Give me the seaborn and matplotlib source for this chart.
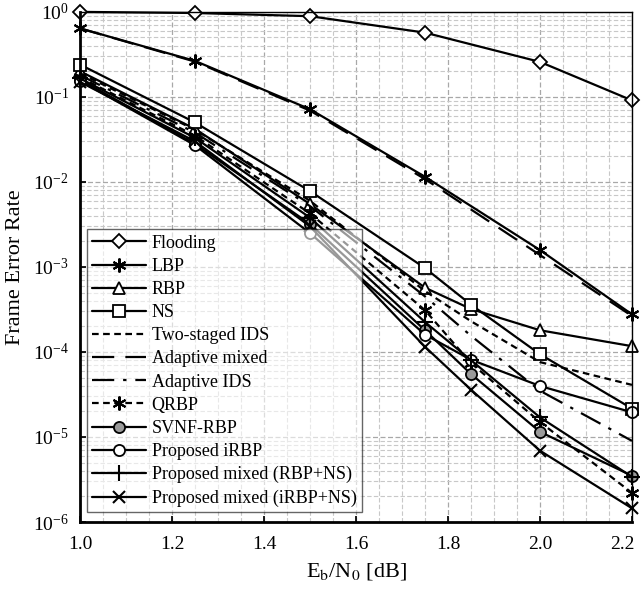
import numpy as np
import pandas as pd
import matplotlib
matplotlib.use("Agg")
import matplotlib.pyplot as plt
import matplotlib.transforms as mtransforms
from matplotlib.ticker import MultipleLocator, LogLocator, NullFormatter
import seaborn as sns

# ---------------- data ----------------
x_six = [1.0, 1.25, 1.5, 1.75, 2.0, 2.2]
x_full = [1.0, 1.25, 1.5, 1.75, 1.85, 2.0, 2.2]

flooding = [1.0, 0.97, 0.89, 0.57, 0.258, 0.091]
lbp = [0.64, 0.265, 0.0716, 0.0115, 1.58e-3, 2.77e-4]
adaptive_mixed = [0.64, 0.26, 0.069, 0.0108, 1.38e-3, 2.65e-4]
rbp = [0.20, 0.042, 5.5e-3, 5.7e-4, 3.2e-4, 1.8e-4, 1.17e-4]
ns = [0.24, 0.050, 7.8e-3, 9.7e-4, 3.6e-4, 9.4e-5, 2.16e-5]
two_staged_ids = [0.19, 0.041, 6.0e-3, 5.2e-4, 2.3e-4, 7.6e-5, 4.1e-5]
adaptive_ids = [0.18, 0.038, 5.2e-3, 4.5e-4, 1.55e-4, 3.5e-5, 9.0e-6]
qrbp = [0.17, 0.035, 4.26e-3, 3.1e-4, 7.4e-5, 1.5e-5, 2.2e-6]
svnf_rbp = [0.16, 0.028, 3.2e-3, 1.8e-4, 5.5e-5, 1.15e-5, 3.5e-6]
proposed_irbp = [0.155, 0.027, 2.5e-3, 1.6e-4, 8.1e-5, 3.98e-5, 1.95e-5]
proposed_mixed_rbp_ns = [0.165, 0.033, 3.8e-3, 2.25e-4, 8.0e-5, 1.7e-5, 3.4e-6]
proposed_mixed_irbp_ns = [0.15, 0.030, 3.0e-3, 1.15e-4, 3.6e-5, 6.9e-6, 1.45e-6]

labels = ["Flooding", "LBP", "RBP", "NS", "Two-staged IDS", "Adaptive mixed",
          "Adaptive IDS", "QRBP", "SVNF-RBP", "Proposed iRBP",
          "Proposed mixed (RBP+NS)", "Proposed mixed (iRBP+NS)"]
xticks = [1.0, 1.2, 1.4, 1.6, 1.8, 2.0, 2.2]

# ---------------- style ----------------
sns.set_theme(style="white")
plt.rcParams['font.family'] = ['Liberation Serif', 'DejaVu Serif']
plt.rcParams['mathtext.fontset'] = 'stix'
plt.rcParams['text.color'] = 'black'
plt.rcParams['axes.labelcolor'] = 'black'
plt.rcParams['xtick.color'] = 'black'
plt.rcParams['ytick.color'] = 'black'

fig = plt.figure(figsize=(6.42, 5.94), dpi=100)
ax = fig.add_axes([0.1246, 0.1212, 0.8598, 0.8588])

asterisk = (6, 2, 0)
series = [
    (x_six, flooding, dict(marker='D', ls='-', mfc='white', ms=7)),
    (x_six, lbp, dict(marker=asterisk, ls='-', mfc='k', ms=10, mew=1.5)),
    (x_full, rbp, dict(marker='^', ls='-', mfc='white', ms=8)),
    (x_full, ns, dict(marker='s', ls='-', mfc='white', ms=8)),
    (x_full, two_staged_ids, dict(marker=None, ls=(0, (3, 2)))),
    (x_six, adaptive_mixed, dict(marker=None, ls=(0, (10, 5)))),
    (x_full, adaptive_ids, dict(marker=None, ls=(0, (10, 4, 1.5, 4)))),
    (x_full, qrbp, dict(marker=asterisk, ls=(0, (3, 2)), mfc='k', ms=10, mew=1.5)),
    (x_full, svnf_rbp, dict(marker='o', ls='-', mfc='#9a9a9a', ms=8)),
    (x_full, proposed_irbp, dict(marker='o', ls='-', mfc='white', ms=8)),
    (x_full, proposed_mixed_rbp_ns, dict(marker='+', ls='-', mfc='k', ms=11, mew=1.5)),
    (x_full, proposed_mixed_irbp_ns, dict(marker='x', ls='-', mfc='k', ms=9, mew=1.5)),
]

for (xs, ys, st), lab in zip(series, labels):
    kw = dict(color='black', linewidth=1.6, linestyle=st['ls'], clip_on=False)
    if st['marker'] is not None:
        kw.update(marker=st['marker'], markersize=st['ms'],
                  markerfacecolor=st['mfc'], markeredgecolor='black',
                  markeredgewidth=st.get('mew', 1.3))
    sns.lineplot(x=xs, y=ys, ax=ax, label=lab, **kw)

ax.set_yscale('log')
ax.set_xlim(1.0, 2.2)
ax.set_ylim(1e-6, 1.0)
ax.set_xticks(xticks)
ax.set_xticklabels([f"{t:.1f}" for t in xticks])
ax.xaxis.set_minor_locator(MultipleLocator(0.05))
ax.yaxis.set_major_locator(LogLocator(base=10, numticks=10))
ax.yaxis.set_minor_locator(LogLocator(base=10, subs=np.arange(2, 10), numticks=100))
ax.yaxis.set_minor_formatter(NullFormatter())

ax.grid(True, which='major', color='#a8a8a8', linestyle=(0, (4, 2)), linewidth=0.9)
ax.grid(True, which='minor', color='#c8c8c8', linestyle=(0, (4, 2)), linewidth=0.8)
ax.set_axisbelow(True)

for s in ax.spines.values():
    s.set_color('black')
    s.set_linewidth(1.0)
ax.spines['left'].set_linewidth(2.0)
ax.spines['bottom'].set_linewidth(2.0)

ax.tick_params(axis='both', which='major', labelsize=14, direction='in', length=4,
               color='black', left=True, bottom=True)
ax.tick_params(axis='x', which='major', pad=10)
ax.tick_params(axis='y', which='major', pad=8)
ax.tick_params(axis='both', which='minor', length=0)

# keep the last x tick label inside the figure
last = ax.get_xticklabels()[-1]
last.set_transform(last.get_transform() +
                   mtransforms.ScaledTranslation(-7 / 72, 0, fig.dpi_scale_trans))

ax.set_xlabel(r'E$_\mathrm{b}$/N$_0$ [dB]', fontsize=16, labelpad=6)
ax.set_ylabel('Frame Error Rate', fontsize=16, labelpad=6)

leg = ax.legend(loc='lower left', bbox_to_anchor=(0.012, 0.019), fontsize=13,
                frameon=True, fancybox=False, framealpha=0.6, edgecolor='black',
                handlelength=3.0, labelspacing=0.34, borderpad=0.3,
                handletextpad=0.3, borderaxespad=0.0)
leg.get_frame().set_linewidth(1.0)

fig.savefig('out.png', dpi=100)
